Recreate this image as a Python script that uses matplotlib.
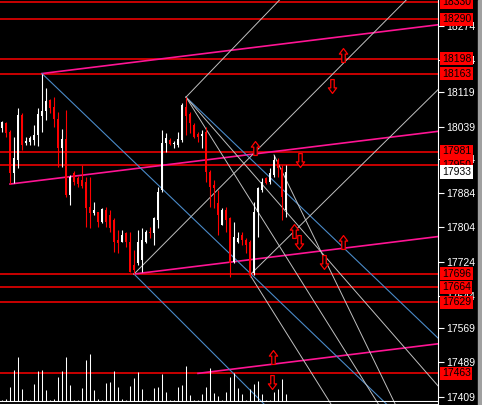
import numpy as np
import matplotlib
matplotlib.use("Agg")
import matplotlib.pyplot as plt
from matplotlib.path import Path

# candles (bar index 0..71), prices
opens = [18036, 18048, 18026, 17931, 17961, 18066, 18001, 18003, 18008, 18020,
         18064, 18076, 18101, 18085, 18057, 17989, 18010, 17879, 17931, 17919,
         17915, 17910, 17851, 17837, 17840, 17816, 17844, 17833, 17821, 17774,
         17770, 17791, 17770, 17716, 17721, 17728, 17770, 17793, 17791, 17821,
         17891, 18001, 18008, 17998, 17996, 18008, 18085, 18069, 18043, 18022,
         18017, 18027, 17933, 17903, 17861, 17809, 17844, 17826, 17723, 17770,
         17786, 17774, 17770, 17697, 17840, 17891, 17919, 17910, 17926, 17961,
         17942, 17844]
highs = [18052, 18050, 18031, 18015, 18083, 18071, 18015, 18017, 18043, 18083,
         18163, 18129, 18104, 18108, 18073, 18034, 18078, 17926, 17935, 17924,
         17950, 17922, 17922, 17863, 17840, 17849, 17851, 17844, 17826, 17798,
         17798, 17793, 17793, 17751, 17798, 17802, 17798, 17805, 17828, 17898,
         18031, 18024, 18013, 18006, 18026, 18094, 18108, 18073, 18048, 18027,
         18031, 18038, 17938, 17915, 17891, 17849, 17851, 17828, 17816, 17793,
         17793, 17779, 17774, 17863, 17898, 17919, 17921, 17942, 17973, 17966,
         17950, 17950]
lows = [18026, 18015, 17905, 17908, 17943, 17985, 17996, 17996, 17996, 17994,
        18026, 18055, 18071, 18038, 17945, 17945, 17875, 17856, 17903, 17898,
        17896, 17805, 17802, 17833, 17805, 17814, 17805, 17793, 17746, 17744,
        17770, 17758, 17700, 17695, 17716, 17700, 17767, 17779, 17763, 17802,
        17886, 17980, 17996, 17989, 17991, 18003, 18020, 18024, 18013, 18003,
        17989, 17910, 17851, 17849, 17786, 17809, 17793, 17688, 17721, 17767,
        17763, 17744, 17688, 17693, 17781, 17886, 17905, 17905, 17921, 17921,
        17821, 17828]
closes = [18050, 18024, 17931, 17966, 18066, 17996, 18006, 18013, 18020, 18069,
          18076, 18099, 18083, 18057, 17989, 18010, 17879, 17922, 17910, 17905,
          17900, 17849, 17837, 17844, 17816, 17847, 17816, 17802, 17770, 17767,
          17786, 17770, 17700, 17704, 17770, 17774, 17793, 17791, 17826, 17886,
          18001, 18013, 17998, 18001, 18010, 18090, 18064, 18048, 18015, 18015,
          18022, 17933, 17898, 17896, 17833, 17844, 17821, 17721, 17781, 17779,
          17774, 17763, 17693, 17840, 17896, 17910, 17907, 17931, 17961, 17942,
          17875, 17933]
volumes = [1, 2, 14, 31, 44, 12, 1, 1, 17, 30, 31, 11, 1, 2, 24, 30, 44, 16,
           1, 1, 13, 41, 47, 11, 2, 1, 18, 19, 30, 14, 2, 1, 15, 23, 29, 12,
           1, 1, 13, 14, 27, 9, 1, 1, 14, 16, 35, 6, 1, 1, 7, 14, 33, 8,
           5, 1, 9, 24, 28, 13, 7, 1, 12, 17, 20, 7, 1, 1, 9, 12, 22, 7]

levels = [18330, 18290, 18198, 18163, 17981, 17950, 17696, 17664, 17629, 17463]
last_price = 17933
axis_ticks = [18274, 18194, 18119, 18039, 17964, 17884, 17804, 17724, 17644,
              17569, 17489, 17409]

# channel lines (start bar, start price), common slope per bar
pink_starts = [(10, 18163), (2, 17905), (33, 17695), (49, 17463)]
pink_slope = 1.15
# blue rays (start bar, start price, slope per bar)
blue_rays = [(10, 18163, -8.96), (46, 18108, -8.93), (33, 17695, -9.34)]
# gray rays
gray_rays = [(33, 17695, 9.4), (46, 18108, 9.7), (62, 17693, 9.2),
             (46, 18108, -14.9), (46, 18108, -10.7), (62, 17693, -14.9),
             (68, 17973, -19.2)]

up_arrows_x = [85.25, 63.25, 73, 85.25, 67.75]
up_arrows_y = [18206, 17989, 17795, 17770, 17501]
dn_arrows_x = [82.5, 74.5, 74.25, 80.5, 67.5]
dn_arrows_y = [18134, 17961, 17770, 17723, 17443]

W, H = 482, 405
fig = plt.figure(figsize=(W / 100, H / 100), dpi=100, facecolor='black')
ax = fig.add_axes([0, 1 / H, 438 / W, 404 / H], facecolor='black')
ymax, ymin = 18334.7, 17391.5
xmax = 109
ax.set_xlim(-0.5, xmax)
ax.set_ylim(ymin, ymax)

idx = np.arange(len(opens))
o = np.array(opens); c = np.array(closes)
up = c >= o
col = np.where(up, 'white', 'red')

# volume on its own scale
axv = fig.add_axes(ax.get_position(), frameon=False)
axv.set_xlim(-0.5, xmax)
axv.set_ylim(-3, 401)
axv.vlines(idx, 0, volumes, color='white', lw=0.75)
axv.axhline(0, color='white', lw=0.8)
axv.set_xticks([]); axv.set_yticks([])

for lv in levels:
    ax.axhline(lv, color='red', lw=1.1, zorder=1)

for x0, p0 in pink_starts:
    xs = np.array([x0, xmax])
    ax.plot(xs, p0 + pink_slope * (xs - x0), color='#ff1493', lw=1.2, zorder=2)
for x0, p0, s in blue_rays:
    xs = np.array([x0, xmax])
    ax.plot(xs, p0 + s * (xs - x0), color='#4a8ac8', lw=0.8, zorder=2)
for x0, p0, s in gray_rays:
    xs = np.array([x0, xmax])
    ax.plot(xs, p0 + s * (xs - x0), color='#c0c0c0', lw=0.7, zorder=2)

ax.vlines(idx, lows, highs, colors=col, lw=0.8, zorder=3)
body = np.maximum(np.abs(c - o), 2.0)
ax.bar(idx, body, bottom=np.minimum(o, c), width=0.7, color=col, zorder=4)

up_path = Path([(0, 1), (0.6, 0.2), (0.25, 0.2), (0.25, -1), (-0.25, -1),
                (-0.25, 0.2), (-0.6, 0.2), (0, 1)], closed=True)
dn_path = Path([(x, -y) for x, y in up_path.vertices], closed=True)
ax.plot(up_arrows_x, up_arrows_y, ls='none', marker=up_path, ms=10,
        mfc='black', mec='red', mew=0.9, zorder=5)
ax.plot(dn_arrows_x, dn_arrows_y, ls='none', marker=dn_path, ms=10,
        mfc='black', mec='red', mew=0.9, zorder=5)

for s in ['top', 'left']:
    ax.spines[s].set_visible(False)
ax.spines['right'].set_color('white')
ax.spines['bottom'].set_color('white')
ax.set_xticks([])
ax.yaxis.tick_right()
ax.set_yticks(axis_ticks)
ax.set_yticklabels([str(t) for t in axis_ticks])
ax.tick_params(axis='y', colors='white', labelsize=7.5, length=4, pad=2)
for lb in ax.get_yticklabels():
    lb.set_fontfamily('Liberation Sans')

for lv in levels:
    ax.annotate(str(lv), xy=(1.0, lv), xycoords=('axes fraction', 'data'),
                xytext=(4, 0), textcoords='offset pixels', va='center', ha='left',
                fontsize=7.5, family='Liberation Sans', color='black',
                bbox=dict(boxstyle='square,pad=0.15', fc='red', ec='none'),
                annotation_clip=False, zorder=6)
ax.annotate(str(last_price), xy=(1.0, last_price), xycoords=('axes fraction', 'data'),
            xytext=(4, 0), textcoords='offset pixels', va='center', ha='left',
            fontsize=7.5, family='Liberation Sans', color='black',
            bbox=dict(boxstyle='square,pad=0.15', fc='white', ec='none'),
            annotation_clip=False, zorder=6)

fig.patches.append(plt.Rectangle((478 / W, 0), 4 / W, 1, transform=fig.transFigure,
                                 color='#a0a0a0'))

fig.savefig('out.png', dpi=100, facecolor='black')
